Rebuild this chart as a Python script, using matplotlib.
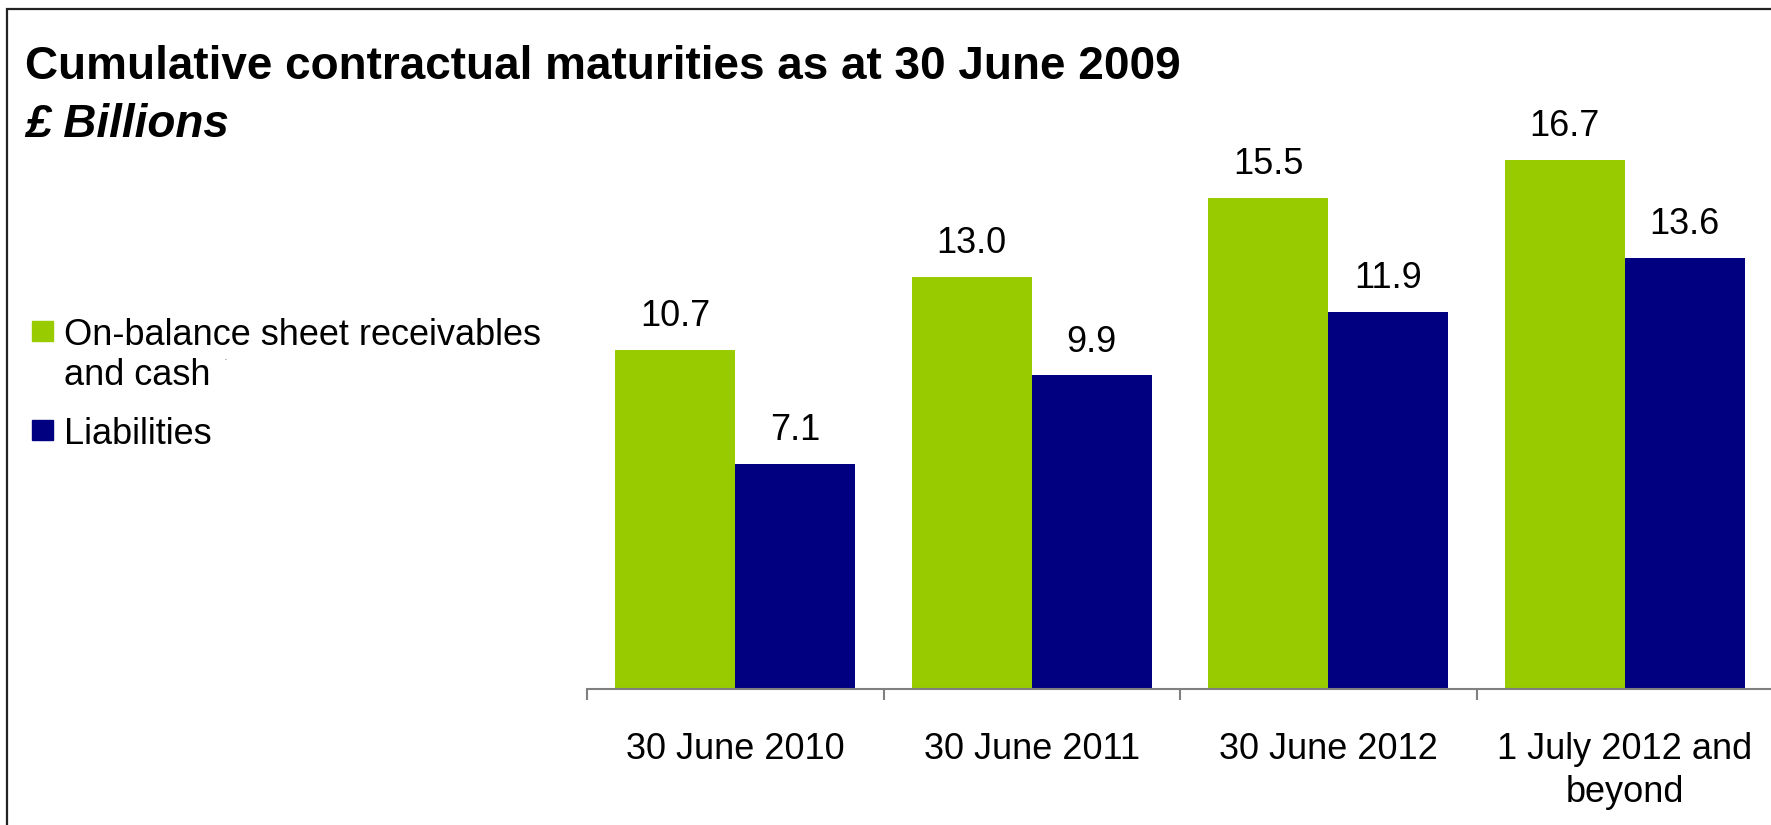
import matplotlib.pyplot as plt
from matplotlib.patches import Rectangle

plt.rcParams['font.family'] = ['Liberation Sans', 'DejaVu Sans']

categories = ['30 June 2010', '30 June 2011', '30 June 2012', '1 July 2012 and\nbeyond']
receivables = [10.7, 13.0, 15.5, 16.7]
liabilities = [7.1, 9.9, 11.9, 13.6]
series_names = ['On-balance sheet receivables\nand cash', 'Liabilities']

green = '#99cc00'
navy = '#000080'
W, H = 1771, 825

fig = plt.figure(figsize=(W / 100, H / 100), dpi=100)

# outer frame around the whole slide
fig.add_artist(Rectangle((7 / W, -0.05), 1.1, 1 - 9 / H + 0.05, transform=fig.transFigure,
                         fill=False, edgecolor='#222222', linewidth=1.6))

ax = fig.add_axes([587 / W, 1 - 689 / H, 1186 / W, 634 / H])
x = range(len(categories))
bw = 0.405
ax.bar([i - bw / 2 for i in x], receivables, width=bw, color=green)
ax.bar([i + bw / 2 for i in x], liabilities, width=bw, color=navy)

for i in x:
    ax.annotate(f'{receivables[i]:.1f}', (i - bw / 2, receivables[i]), xytext=(0, 17),
                textcoords='offset points', ha='center', va='baseline', fontsize=26)
    ax.annotate(f'{liabilities[i]:.1f}', (i + bw / 2, liabilities[i]), xytext=(0, 17),
                textcoords='offset points', ha='center', va='baseline', fontsize=26)

ax.set_xlim(-0.5, len(categories) - 0.5)
ax.set_ylim(0, 20)
for s in ['left', 'right', 'top']:
    ax.spines[s].set_visible(False)
ax.spines['bottom'].set_color('#808080')
ax.spines['bottom'].set_linewidth(1.5)
ax.set_yticks([])

# boundary ticks between groups, labels centred under each group
ax.set_xticks([i - 0.5 for i in range(len(categories) + 1)])
ax.set_xticklabels([])
ax.tick_params(axis='x', which='major', direction='out', length=8, width=1.5, color='#808080')
ax.set_xticks(list(x), minor=True)
ax.set_xticklabels(categories, minor=True, fontsize=26, linespacing=1.3)
ax.tick_params(axis='x', which='minor', length=0, pad=31)

fig.text(25 / W, 1 - 79 / H, 'Cumulative contractual maturities as at 30 June 2009',
         fontsize=33, fontweight='bold', va='baseline')
fig.text(25 / W, 1 - 137 / H, '£ Billions', fontsize=33, fontweight='bold',
         fontstyle='italic', va='baseline')

# legend
for top, color, label in [(321, green, series_names[0]), (420, navy, series_names[1])]:
    fig.add_artist(Rectangle((32 / W, 1 - (top + 20) / H), 21 / W, 20 / H,
                             transform=fig.transFigure, color=color))
    fig.text(64 / W, 1 - (top - 3) / H, label, fontsize=26, va='top', linespacing=1.2)
fig.text(225 / W, 1 - 359 / H, '.', fontsize=5, ha='center', va='center')

fig.savefig('out.png', dpi=100)
